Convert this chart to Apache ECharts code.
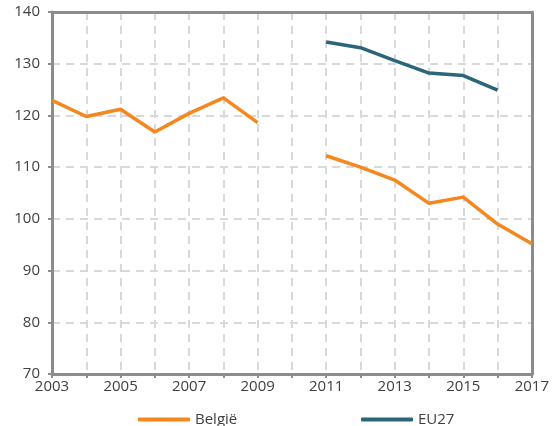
<!DOCTYPE html>
<html>
<head>
<meta charset="utf-8">
<script src="https://cdn.jsdelivr.net/npm/echarts@6/dist/echarts.min.js"></script>
<style>
html, body { margin: 0; padding: 0; background: #fff; }
#box1 { width: 552px; height: 426px; }
</style>
</head>
<body>
<div id="box1"></div>
<script>
var years = ['2003', '2004', '2005', '2006', '2007', '2008', '2009', '2010',
    '2011', '2012', '2013', '2014', '2015', '2016', '2017'];
var belgie = [122.9, 119.8, 121.2, 116.8, 120.4, 123.4, 118.6, null,
    112.2, 110.0, 107.5, 103.0, 104.2, 99.0, 95.2];
var eu27 = [null, null, null, null, null, null, null, null,
    134.2, 133.1, 130.6, 128.2, 127.7, 124.9, null];

var chart = echarts.init(document.getElementById('box1'));
var font = 'Open Sans';
var axisGrey = '#8c8c8c';

var option = {
    animation: false,
    textStyle: { fontFamily: font },
    grid: { left: 52, right: 20, top: 12, bottom: 52 },
    legend: [{
        left: 133, top: 407,
        data: ['België'],
        icon: 'roundRect',
        itemWidth: 52, itemHeight: 4, itemGap: 4,
        textStyle: { fontFamily: font, fontSize: 15, color: '#404040' }
    }, {
        left: 356, top: 407,
        data: ['EU27'],
        icon: 'roundRect',
        itemWidth: 52, itemHeight: 4,
        textStyle: { fontFamily: font, fontSize: 15, color: '#404040' }
    }],
    xAxis: [{
        type: 'category',
        boundaryGap: false,
        data: years,
        z: 3,
        axisLine: { lineStyle: { color: axisGrey, width: 3 } },
        axisTick: { show: true, interval: 0, length: 4, lineStyle: { color: axisGrey, width: 2 } },
        axisLabel: { interval: 1, color: '#404040', fontSize: 15, margin: 5 },
        splitLine: { show: true, interval: 0, lineStyle: { color: '#d9d9d9', type: [8, 6], width: 2 } }
    }, {
        type: 'category',
        position: 'top',
        boundaryGap: false,
        data: years,
        z: 3,
        axisLine: { lineStyle: { color: axisGrey, width: 3 } },
        axisTick: { show: false },
        axisLabel: { show: false },
        splitLine: { show: false }
    }],
    yAxis: [{
        type: 'value',
        min: 70, max: 140, interval: 10,
        z: 3,
        axisLine: { show: true, lineStyle: { color: axisGrey, width: 3 } },
        axisTick: { show: true, length: 4, lineStyle: { color: axisGrey, width: 2 } },
        axisLabel: { color: '#404040', fontSize: 15, margin: 12 },
        splitLine: { lineStyle: { color: '#d9d9d9', type: [8, 6], width: 2 } }
    }, {
        type: 'value',
        position: 'right',
        min: 70, max: 140, interval: 10,
        z: 3,
        axisLine: { show: true, lineStyle: { color: axisGrey, width: 3 } },
        axisTick: { show: false },
        axisLabel: { show: false },
        splitLine: { show: false }
    }],
    series: [{
        name: 'België',
        type: 'line',
        data: belgie,
        color: '#f5871f',
        symbol: 'none',
        lineStyle: { width: 3.5 }
    }, {
        name: 'EU27',
        type: 'line',
        data: eu27,
        color: '#2b6579',
        symbol: 'none',
        lineStyle: { width: 3.5 }
    }]
};
chart.setOption(option);
</script>
</body>
</html>
